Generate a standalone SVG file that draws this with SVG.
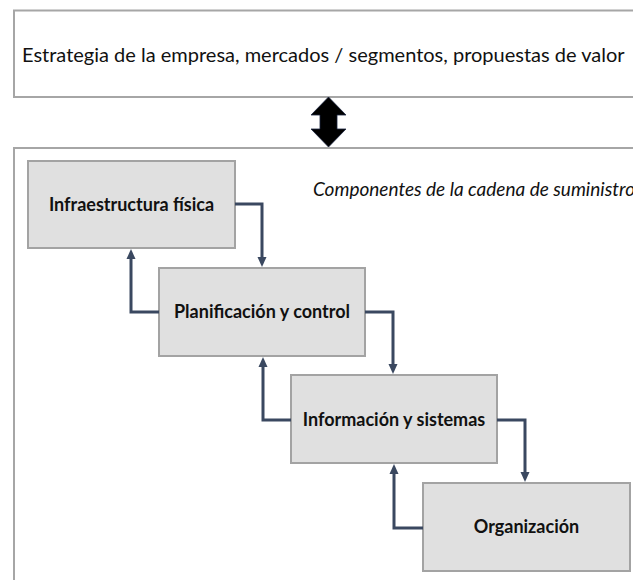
<svg xmlns="http://www.w3.org/2000/svg" width="633" height="580" viewBox="0 0 633 580">
  <defs>
    <marker id="ah" viewBox="0 0 10 10" refX="2" refY="5" markerWidth="10" markerHeight="10" markerUnits="userSpaceOnUse" orient="auto">
      <path d="M0,0.5 L10,5 L0,9.5 z" fill="#3a4860"/>
    </marker>
    <style>
      .frame { fill: #ffffff; stroke: #a6a6a6; stroke-width: 2; }
      .box { fill: #e0e0e0; stroke: #a3a3a3; stroke-width: 2; }
      .lbl { font-family: Lato, "Liberation Sans", sans-serif; font-weight: bold; font-size: 18px; fill: #111111; text-anchor: middle; }
      .plain { font-family: Lato, "Liberation Sans", sans-serif; font-size: 20px; fill: #111111; }
      .ital { font-family: Lato, "Liberation Sans", sans-serif; font-style: italic; font-size: 19px; fill: #111111; }
      .conn { fill: none; stroke: #3a4860; stroke-width: 3; marker-end: url(#ah); }
    </style>
  </defs>

  <g id="strategy">
    <rect class="frame" x="14" y="10.5" width="640" height="86.5"/>
    <text class="plain" x="22" y="62">Estrategia de la empresa, mercados / segmentos, propuestas de valor</text>
  </g>

  <g id="double-arrow">
    <polygon points="328.5,97 346,115 337,115 337,129 346,129 328.5,147 311,129 320,129 320,115 311,115" fill="#000000" stroke="#1a2540" stroke-width="0.8"/>
  </g>

  <g id="supply-chain">
    <rect class="frame" x="14" y="148" width="640" height="450"/>
    <text class="ital" x="313" y="196">Componentes de la cadena de suministro</text>
  </g>

  <g id="infraestructura">
    <rect class="box" x="28" y="161" width="207" height="87"/>
    <text class="lbl" x="131.5" y="211">Infraestructura física</text>
  </g>

  <g id="planificacion">
    <rect class="box" x="159" y="268" width="206" height="88"/>
    <text class="lbl" x="262" y="318">Planificación y control</text>
  </g>

  <g id="informacion">
    <rect class="box" x="291" y="375" width="206" height="88"/>
    <text class="lbl" x="394" y="426">Información y sistemas</text>
  </g>

  <g id="organizacion">
    <rect class="box" x="423" y="483" width="207" height="88"/>
    <text class="lbl" x="526.5" y="533">Organización</text>
  </g>

  <g id="connectors">
    <path class="conn" d="M235,204 H262 V259"/>
    <path class="conn" d="M159,312 H131 V257"/>
    <path class="conn" d="M365,312 H393 V366"/>
    <path class="conn" d="M291,420 H263 V365"/>
    <path class="conn" d="M497,420 H525 V474"/>
    <path class="conn" d="M423,528 H394 V472"/>
  </g>
</svg>
